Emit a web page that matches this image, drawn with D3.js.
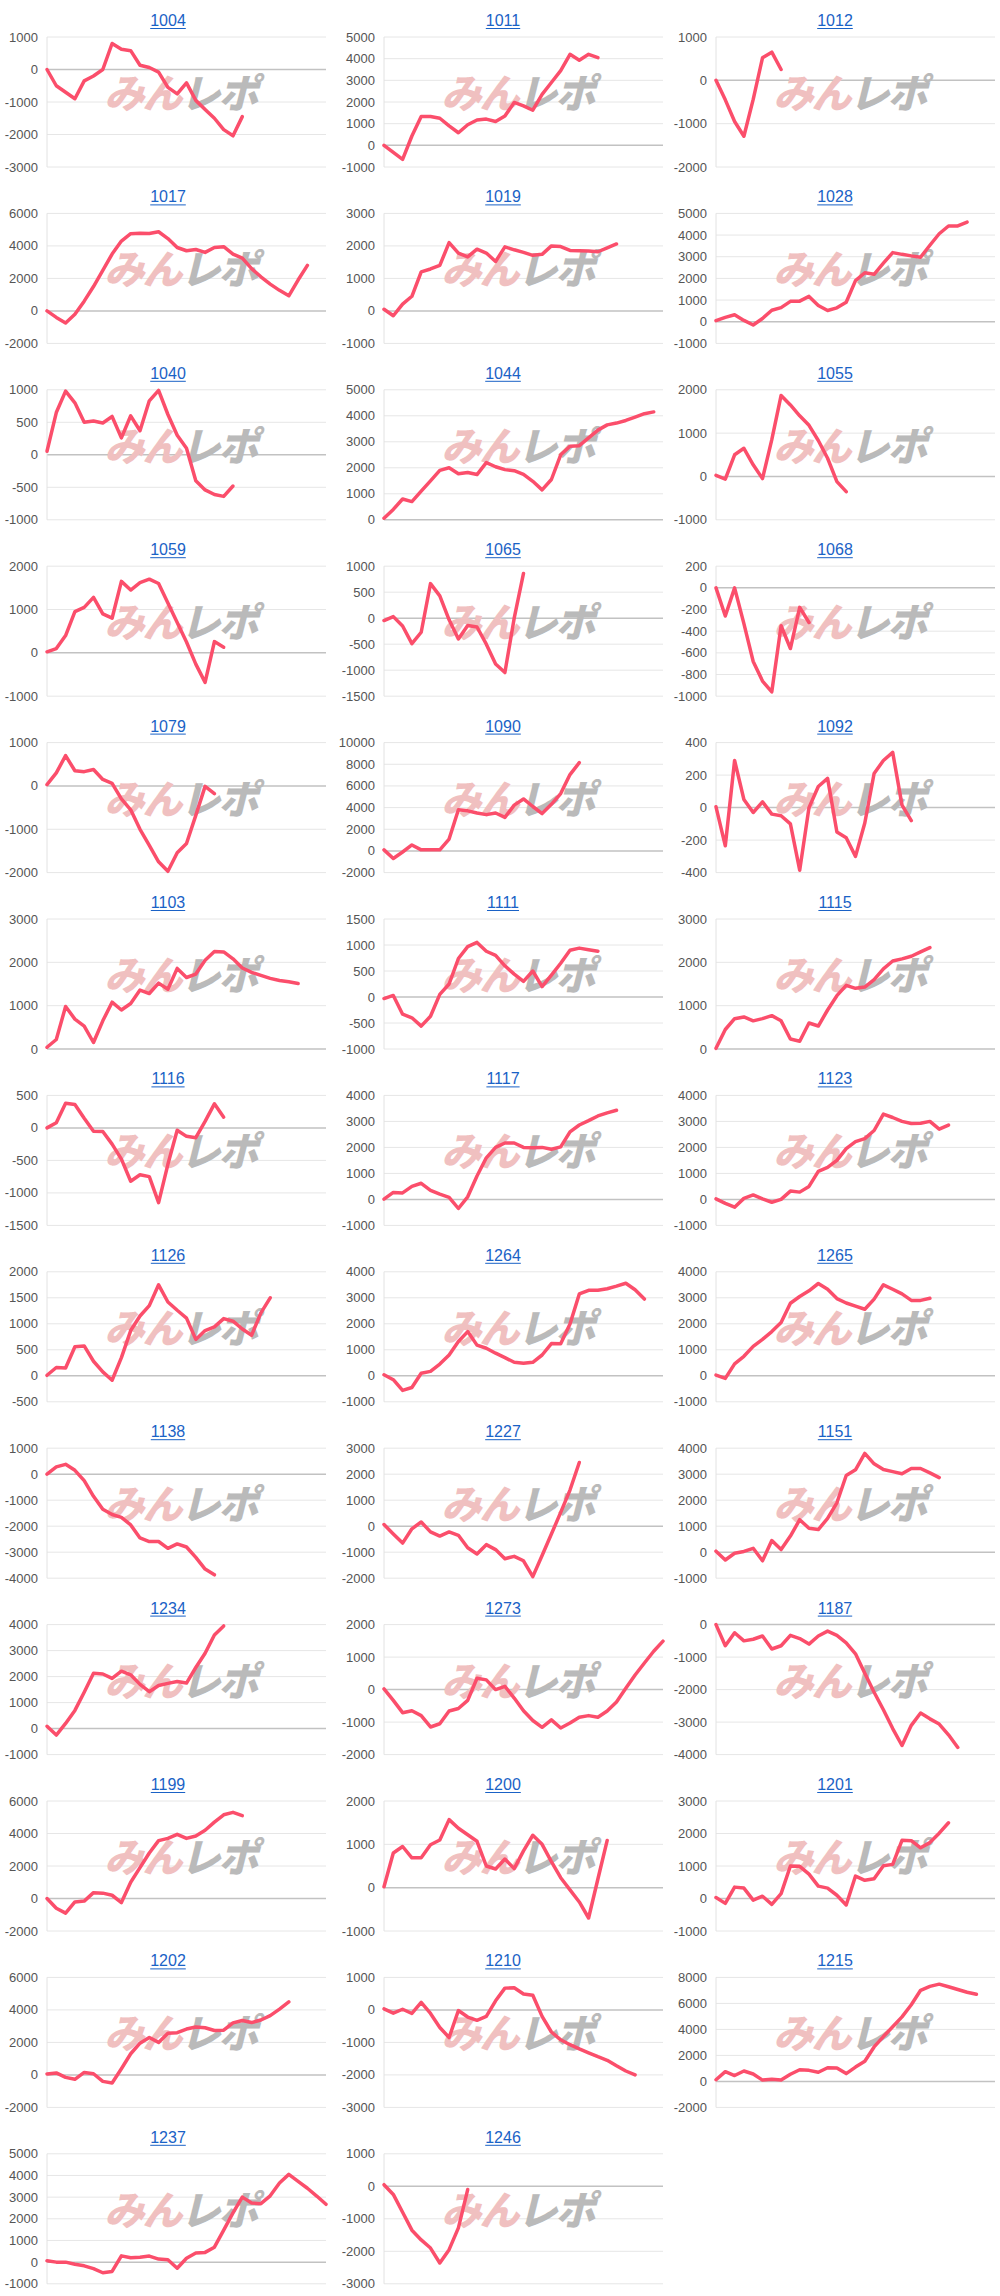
<!DOCTYPE html>
<html><head><meta charset="utf-8">
<script src="https://cdn.jsdelivr.net/npm/d3@7"></script>
<style>body{margin:0;background:#fff}svg{display:block}</style>
</head><body>
<svg id="c" width="1000" height="2296"></svg>
<script>
const titles = ["1004","1011","1012","1017","1019","1028","1040","1044","1055","1059","1065","1068","1079","1090","1092","1103","1111","1115","1116","1117","1123","1126","1264","1265","1138","1227","1151","1234","1273","1187","1199","1200","1201","1202","1210","1215","1237","1246"];
const yMax  = [1000,5000,1000,6000,3000,5000,1000,5000,2000,2000,1000,200,1000,10000,400,3000,1500,3000,500,4000,4000,2000,4000,4000,1000,3000,4000,4000,2000,0,6000,2000,3000,6000,1000,8000,5000,1000];
const yMin  = [-3000,-1000,-2000,-2000,-1000,-1000,-1000,0,-1000,-1000,-1500,-1000,-2000,-2000,-400,0,-1000,0,-1500,-1000,-1000,-500,-1000,-1000,-4000,-2000,-1000,-1000,-2000,-4000,-2000,-1000,-1000,-2000,-3000,-2000,-1000,-3000];
const yStep = [1000,1000,1000,2000,1000,1000,500,1000,1000,1000,500,200,1000,2000,200,1000,500,1000,500,1000,1000,500,1000,1000,1000,1000,1000,1000,1000,1000,2000,1000,1000,2000,1000,2000,1000,1000];
const daysMax = 30;

const s1004 = [0,-500,-700,-900,-350,-200,0,800,620,580,130,60,-80,-550,-750,-410,-950,-1230,-1500,-1850,-2040,-1450];
const s1011 = [0,-330,-650,430,1330,1330,1250,900,580,950,1170,1210,1100,1350,1980,1820,1620,2350,2900,3450,4200,3930,4200,4050];
const s1012 = [0,-450,-950,-1290,-440,520,650,250];
const s1017 = [0,-400,-740,-210,600,1500,2500,3500,4300,4750,4780,4760,4870,4450,3900,3700,3780,3600,3900,3950,3500,3250,2600,2100,1650,1265,930,1900,2800];
const s1019 = [50,-150,210,450,1200,1290,1400,2100,1780,1660,1900,1780,1520,1970,1880,1800,1710,1740,2000,1980,1860,1850,1840,1820,1940,2060];
const s1028 = [50,200,320,60,-150,150,530,650,940,950,1170,750,520,640,900,1900,2260,2190,2700,3190,3110,3040,2980,3530,4060,4420,4420,4600];
const s1040 = [55,650,980,800,500,520,490,590,260,600,370,830,990,620,300,100,-400,-540,-610,-640,-480];
const s1044 = [60,400,800,700,1100,1500,1900,2000,1770,1820,1740,2200,2040,1930,1890,1750,1480,1150,1550,2500,2830,2850,3150,3450,3650,3720,3820,3950,4080,4150];
const s1055 = [25,-60,500,650,270,-50,850,1870,1650,1400,1180,830,420,-120,-350];
const s1059 = [25,100,400,950,1050,1280,900,800,1650,1450,1620,1700,1600,1150,700,250,-260,-680,260,130];
const s1065 = [-45,30,-150,-490,-270,665,430,-30,-400,-140,-170,-500,-880,-1045,0,860];
const s1068 = [0,-260,0,-330,-680,-860,-960,-350,-560,-180,-320];
const s1079 = [30,300,700,350,330,380,150,60,-300,-550,-1000,-1370,-1750,-1970,-1540,-1330,-680,-10,-180];
const s1090 = [100,-700,-100,550,100,100,100,1100,3800,3700,3500,3350,3500,3100,4230,4800,4100,3450,4300,5300,7050,8150];
const s1092 = [5,-235,290,50,-30,35,-40,-50,-100,-385,0,130,180,-150,-185,-300,-95,210,290,340,15,-80];
const s1103 = [40,220,980,690,530,150,650,1080,900,1050,1360,1280,1520,1380,1860,1650,1730,2050,2250,2240,2080,1870,1770,1700,1630,1580,1550,1510];
const s1111 = [-30,30,-330,-400,-560,-370,50,250,740,970,1050,880,800,600,440,300,500,200,420,650,900,940,910,880];
const s1115 = [15,450,700,740,650,700,770,650,230,180,600,530,900,1230,1470,1400,1430,1600,1850,2030,2080,2140,2240,2340];
const s1116 = [0,80,380,360,150,-50,-55,-250,-480,-820,-720,-750,-1150,-560,-35,-130,-150,100,370,165];
const s1117 = [10,270,250,500,620,350,200,80,-350,100,900,1600,2000,2170,2170,2000,1990,2000,1930,2020,2600,2860,3030,3210,3330,3430];
const s1123 = [20,-150,-300,40,170,20,-110,0,320,280,500,1080,1230,1500,1950,2220,2340,2650,3280,3150,3000,2920,2930,3000,2700,2860];
const s1126 = [10,160,150,560,575,280,75,-85,350,870,1150,1350,1750,1420,1260,1110,700,870,940,1100,1050,900,780,1210,1500];
const s1264 = [40,-150,-560,-450,100,170,450,800,1320,1700,1180,1060,870,700,520,480,520,800,1240,1230,1990,3150,3290,3290,3350,3450,3560,3310,2950];
const s1265 = [25,-100,460,750,1130,1400,1700,2050,2790,3050,3270,3550,3330,2970,2800,2680,2560,2950,3500,3330,3150,2900,2900,2980];
const s1138 = [0,280,380,150,-250,-850,-1350,-1550,-1660,-1950,-2450,-2590,-2590,-2850,-2680,-2800,-3200,-3650,-3870];
const s1227 = [65,-300,-650,-100,160,-220,-380,-220,-350,-830,-1070,-710,-900,-1250,-1160,-1330,-1940,-1130,-300,530,1390,2450];
const s1151 = [40,-300,-40,30,150,-330,450,100,620,1250,920,870,1300,1900,2950,3170,3800,3400,3180,3100,3020,3220,3220,3050,2870];
const s1234 = [90,-250,200,700,1400,2130,2100,1930,2210,2070,1700,1420,1660,1740,1810,1750,2350,2900,3600,3950];
const s1273 = [20,-330,-710,-650,-800,-1150,-1050,-660,-580,-330,350,300,0,100,-260,-650,-950,-1160,-930,-1180,-1030,-850,-800,-850,-660,-380,40,450,820,1180,1490];
const s1187 = [0,-650,-250,-500,-450,-350,-750,-650,-330,-430,-600,-350,-200,-330,-560,-900,-1500,-2080,-2620,-3200,-3720,-3100,-2720,-2900,-3060,-3390,-3780];
const s1199 = [0,-600,-900,-210,-160,360,330,200,-250,1000,1900,2800,3560,3700,3950,3700,3850,4200,4700,5150,5300,5100];
const s1200 = [20,800,950,690,690,990,1100,1570,1370,1220,1070,500,430,660,440,850,1210,1000,600,230,-50,-330,-700,200,1090];
const s1201 = [30,-150,350,320,-50,70,-180,150,1000,990,750,380,320,100,-200,690,560,610,1010,1050,1790,1780,1560,1720,2010,2330];
const s1202 = [60,120,-150,-270,150,70,-400,-500,380,1300,1950,2300,2000,2560,2600,2820,2950,2900,2730,2750,3200,3350,3220,3380,3650,4050,4490];
const s1210 = [30,-100,20,-110,230,-110,-540,-850,-20,-220,-320,-200,280,670,680,490,450,-200,-680,-920,-1070,-1200,-1320,-1440,-1550,-1720,-1880,-2000];
const s1215 = [130,750,450,800,570,100,160,110,550,900,850,700,1050,1030,600,1100,1550,2650,3450,4200,4960,5900,7010,7310,7480,7280,7070,6860,6700];
const s1237 = [60,0,0,-100,-170,-300,-490,-430,290,200,230,280,140,110,-280,180,420,450,690,1480,2270,3000,2730,2700,3060,3650,4050,3730,3410,3050,2670];
const s1246 = [50,-250,-800,-1350,-1650,-1900,-2360,-1950,-1280,-100];

const series = [s1004,s1011,s1012,s1017,s1019,s1028,s1040,s1044,s1055,s1059,s1065,s1068,s1079,s1090,s1092,s1103,s1111,s1115,s1116,s1117,s1123,s1126,s1264,s1265,s1138,s1227,s1151,s1234,s1273,s1187,s1199,s1200,s1201,s1202,s1210,s1215,s1237,s1246];

// layout
const colLeft = [47, 384, 716];
const colCenter = [168, 503, 835];
const plotW = 279, plotH = 130, top0 = 37, rowStep = 176.4;
const svg = d3.select("#c");
const fontLat = "'Liberation Sans', Arial, Helvetica, sans-serif";

titles.forEach((t, i) => {
  const r = Math.floor(i / 3), c = i % 3;
  const left = colLeft[c], top = top0 + r * rowStep;
  const x = d3.scaleLinear().domain([0, daysMax]).range([left, left + plotW]);
  const y = d3.scaleLinear().domain([yMin[i], yMax[i]]).range([top + plotH, top]);
  const ticks = d3.range(yMin[i], yMax[i] + yStep[i] / 2, yStep[i]);
  const g = svg.append("g");

  g.selectAll("line.grid").data(ticks).join("line")
    .attr("x1", left).attr("x2", left + plotW)
    .attr("y1", d => y(d)).attr("y2", d => y(d))
    .attr("stroke", d => d === 0 ? "#c2c2c2" : "#e6e6e6")
    .attr("stroke-width", d => d === 0 ? 1.5 : 1);
  g.append("line").attr("x1", left).attr("x2", left)
    .attr("y1", top).attr("y2", top + plotH)
    .attr("stroke", "#e2e2e2").attr("stroke-width", 1);
  g.selectAll("text.tick").data(ticks).join("text")
    .attr("x", left - 9).attr("y", d => y(d) + 4.5)
    .attr("text-anchor", "end")
    .attr("font-family", fontLat).attr("font-size", 13)
    .attr("fill", "#555").text(d => String(d));

  // watermark
  const cx = left + plotW / 2, cy = top + plotH / 2;
  const wm = g.append("text")
    .attr("transform", `translate(${cx - 82},${cy + 6}) skewX(-14)`)
    .attr("font-family", "'Noto Sans CJK JP', sans-serif")
    .attr("font-weight", 900).attr("font-size", 40)
    .attr("letter-spacing", -2);
  wm.append("tspan").attr("fill", "#f0c0c0").text("みん");
  wm.append("tspan").attr("fill", "#bababa").text("レポ");

  const line = d3.line().x((d, j) => x(j)).y(d => y(d));
  g.append("path").datum(series[i])
    .attr("d", line)
    .attr("fill", "none").attr("stroke", "#fb4e6b")
    .attr("stroke-width", 3.5).attr("stroke-linejoin", "round").attr("stroke-linecap", "round");

  const tt = g.append("text")
    .attr("x", colCenter[c]).attr("y", top - 11)
    .attr("text-anchor", "middle")
    .attr("font-family", fontLat).attr("font-size", 16)
    .attr("fill", "#1a62c6").text(t);
  const w = tt.node().getComputedTextLength();
  g.append("line")
    .attr("x1", colCenter[c] - w / 2).attr("x2", colCenter[c] + w / 2)
    .attr("y1", top - 8.5).attr("y2", top - 8.5)
    .attr("stroke", "#1a62c6").attr("stroke-width", 1);
});
</script>
</body></html>
